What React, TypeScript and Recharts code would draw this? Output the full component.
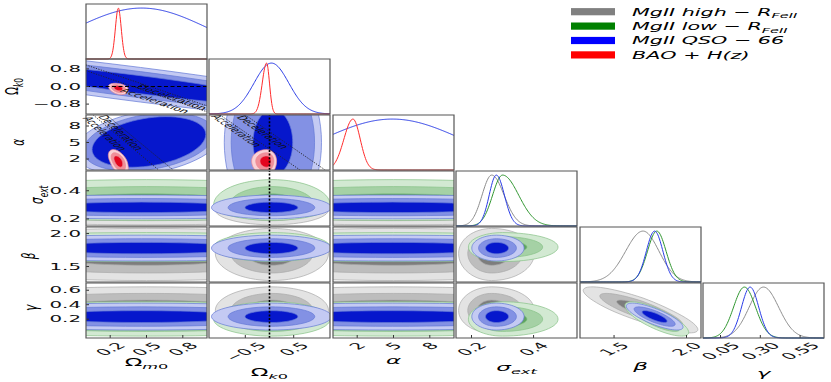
import React from "react";
import {
  ComposedChart,
  Line,
  Scatter,
  XAxis,
  YAxis,
  ReferenceArea,
  ReferenceLine,
  ReferenceDot,
} from "recharts";

// parameter order: Ωm0, Ωk0, α, σext, β, γ
const paramMin = [0, -1.25, 0, 0.15, 1.265, -0.06];
const paramMax = [1, 1.25, 10, 0.54, 2.1, 0.7];
const xTickValues = [[0.2, 0.5, 0.8], [-0.5, 0.5], [2, 5, 8], [0.2, 0.4], [1.5, 2.0], [0.05, 0.3, 0.55]];
const yTickValues = [[0.2, 0.5, 0.8], [-0.8, 0, 0.8], [2, 5, 8], [0.2, 0.4], [1.5, 2.0], [0.2, 0.4, 0.6]];
const xTickDigits = [1, 1, 0, 1, 1, 2];
const yTickDigits = [1, 1, 0, 1, 1, 1];
const labelMain = ["Ω", "Ω", "α", "σ", "β", "γ"];
const labelSub = ["m0", "k0", "", "ext", "", ""];

// posterior peak, lower width, upper width
const highPeak = [0.5, 0.05, 5, 0.265, 1.7, 0.32];
const highLow = [0.6, 0.34, 6, 0.031, 0.12, 0.09];
const highUp = [0.6, 0.34, 6, 0.04, 0.11, 0.095];
const lowPeak = [0.5, 0.05, 5, 0.3, 1.795, 0.2];
const lowLow = [0.6, 0.35, 6, 0.032, 0.064, 0.068];
const lowUp = [0.6, 0.35, 6, 0.052, 0.064, 0.07];
const qsoPeak = [0.46, 0.04, 4.9, 0.28, 1.78, 0.236];
const qsoLow = [0.55, 0.36, 5.8, 0.023, 0.057, 0.054];
const qsoUp = [0.55, 0.36, 5.8, 0.026, 0.057, 0.054];
const baoPeak = [0.267, -0.06, 1.65];
const baoLow = [0.024, 0.09, 0.75];
const baoUp = [0.024, 0.06, 0.6];

// correlations: [param i, param j, rho]
const highCorr = [[4, 5, -0.85]];
const lowCorr = [[4, 5, -0.78]];
const qsoCorr = [[4, 5, -0.78]];
const baoCorr = [[0, 1, -0.3], [0, 2, -0.5]];

// QSO-66 contours in the cosmology panels (outer -> inner)
const qsoCosmo = [
  { i: 0, j: 1, cx: 0.45, cy: 0.08, sx: 0.8, sy: 0.622, rho: -0.9, k: [2.9, 2.2, 1.515] },
  { i: 0, j: 2, cx: 0.52, cy: 5.1, sx: 0.47, sy: 4.6, rho: 0.3, k: [1.3, 1.15, 1] },
  { i: 1, j: 2, cx: 0.07, cy: 5, sx: 0.41, sy: 6, rho: 0, k: [2.45, 2.1, 1] },
];
const levels = [3.44, 2.486, 1.515];

// q0 = 0 boundary lines and their labels
const boundaryLines = [
  [0, 1, 0, 0.98, 1, -0.88],
  [0, 1, 0, 0.72, 1, -1.15],
  [0, 2, 0.17, 10, 0.72, 0],
  [0, 2, 0.06, 10, 0.6, 0],
  [1, 2, -1.02, 10, 0.63, 0],
  [1, 2, -0.5, 10, 1.15, 0],
];
const boundaryText = [
  [0, 1, 0.71, -0.49, "Deceleration", 37],
  [0, 1, 0.57, -0.65, "Acceleration", 37],
  [0, 2, 0.29, 6.8, "Deceleration", 63],
  [0, 2, 0.157, 6.6, "Acceleration", 63],
  [1, 2, -0.14, 6.9, "Deceleration", 57],
  [1, 2, -0.68, 7.15, "Acceleration", 57],
];

const legendLabels = ["MgII high − R", "MgII low − R", "MgII QSO − 66", "BAO + H(z)"];
const legendSubs = ["FeII", "FeII", "", ""];
const legendColors = ["#808080", "#008000", "#0000ff", "#ff0000"];

const high = { key: "high", peak: highPeak, low: highLow, up: highUp, corr: highCorr, line: "#8c8c8c", fills: ["#e3e3e3", "#bdbdbd", "#7d7d7d"], edge: "#a9a9a9" };
const low = { key: "low", peak: lowPeak, low: lowLow, up: lowUp, corr: lowCorr, line: "#2f962f", fills: ["#d2e9d2", "#a5d1a5", "#5ea45e"], edge: "#86c186" };
const qso = { key: "qso", peak: qsoPeak, low: qsoLow, up: qsoUp, corr: qsoCorr, line: "#2a3ce6", fills: ["#c4caf3", "#8391e4", "#0617cc"], edge: "#6378d6" };
const bao = { key: "bao", peak: baoPeak, low: baoLow, up: baoUp, corr: baoCorr, line: "#ff2b2b", fills: ["#f9d2d6", "#f08f99", "#e3061f"], edge: "#ec8a95" };

const W = 121;
const H = 55;
const COL0 = 86;
const COL_STEP = 123.4;
const ROW0 = 3.5;
const ROW_STEP = 55.9;
const SX = 2.2;
const FONT = "'DejaVu Sans', sans-serif";
const TICK_FS = 9;
const LABEL_FS = 10.5;

const yLabelX = [0, 12, 18, 37.5, 29, 31.5];
const yLabelY = [0, 87, 142.5, 195, 256, 308];
const xLabelY = [362, 372, 360, 367, 366, 373];

const fmt = (v: number, d: number) => (v < 0 ? "−" : "") + Math.abs(v).toFixed(d);
const emWidth = (s: string) =>
  [...s].reduce((w, ch) => w + (ch === "." ? 0.318 : ch === "−" ? 0.838 : 0.636), 0);

const splitGauss = (x: number, m: number, lo: number, hi: number) =>
  Math.exp(-0.5 * ((x - m) / (x < m ? lo : hi)) ** 2);

function corrOf(set: any, i: number, j: number) {
  const hit = set.corr.find((p: number[]) => (p[0] === i && p[1] === j) || (p[0] === j && p[1] === i));
  return hit ? hit[2] : 0;
}

function ellipse(cx: number, cy: number, sxLo: number, sxHi: number, syLo: number, syHi: number, rho: number, k: number) {
  const pts = [];
  const c = Math.sqrt(1 - rho * rho);
  for (let n = 0; n < 64; n++) {
    const t = (2 * Math.PI * n) / 64;
    const u = k * Math.cos(t);
    const v = rho * u + c * k * Math.sin(t);
    pts.push({ x: cx + u * (u < 0 ? sxLo : sxHi), y: cy + v * (v < 0 ? syLo : syHi) });
  }
  return pts;
}

function panelContours(c: number, r: number) {
  const out: any[] = [];
  let sets = [high, low, qso];
  if (r <= 2) {
    const o = qsoCosmo.find((p) => p.i === c && p.j === r)!;
    o.k.forEach((k, n) =>
      out.push({ pts: ellipse(o.cx, o.cy, o.sx, o.sx, o.sy, o.sy, o.rho, k), fill: qso.fills[n], edge: qso.edge })
    );
    sets = [bao];
  }
  sets.forEach((set) => {
    const rho = corrOf(set, c, r);
    levels.forEach((k, n) =>
      out.push({
        pts: ellipse(set.peak[c], set.peak[r], set.low[c], set.up[c], set.low[r], set.up[r], rho, k),
        fill: set.fills[n],
        edge: set.edge,
      })
    );
  });
  return out;
}

function curveRows(p: number, sets: any[]) {
  const rows = [];
  const n = 160;
  for (let s = 0; s <= n; s++) {
    const x = paramMin[p] + ((paramMax[p] - paramMin[p]) * s) / n;
    const row: any = { x };
    sets.forEach((set) => (row[set.key] = splitGauss(x, set.peak[p], set.low[p], set.up[p])));
    rows.push(row);
  }
  return rows;
}

const renderNothing = () => <g />;

function MathText({ main, sub, fs, italic }: any) {
  return (
    <text textAnchor="middle" dy="0.35em" fontSize={fs} fontFamily={FONT} fill="#000">
      <tspan fontStyle={italic ? "italic" : "normal"}>{main}</tspan>
      {[...sub].map((ch: string, n: number) => (
        <tspan key={n} fontSize={fs * 0.7} fontStyle={/[a-z]/i.test(ch) ? "italic" : "normal"} dy={n === 0 ? fs * 0.3 : 0}>
          {ch}
        </tspan>
      ))}
    </text>
  );
}

function XTick(props: any) {
  const { x, y, payload, digits } = props;
  const s = fmt(payload.value, digits);
  const off = 3.5 + (emWidth(s) * TICK_FS + 0.73 * TICK_FS) * 0.3536;
  return (
    <g transform={`translate(${x},${y + off}) scale(${SX},1) rotate(-45)`}>
      <text textAnchor="middle" dy="0.36em" fontSize={TICK_FS} fontFamily={FONT} fill="#111">
        {s}
      </text>
    </g>
  );
}

function YTick(props: any) {
  const { x, y, payload, digits } = props;
  return (
    <g transform={`translate(${x},${y}) scale(${SX},1)`}>
      <text textAnchor="end" dy="0.36em" fontSize={TICK_FS} fontFamily={FONT} fill="#111">
        {fmt(payload.value, digits)}
      </text>
    </g>
  );
}

function Panel({ r, c }: { r: number; c: number }) {
  const diag = r === c;
  const showX = r === 5;
  const showY = c === 0 && r > 0;
  const ml = c === 0 ? 86 : showX ? 24 : 3;
  const mb = showX ? 46 : 3;
  const extra = showX ? 18 : 0;
  const left = COL0 + c * COL_STEP - ml;
  const top = ROW0 + r * ROW_STEP - 3;
  const curveSets = c <= 2 ? [qso, bao] : [high, low, qso];

  const xLabel = showX
    ? {
        content: () => (
          <g transform={`translate(${ml + W / 2},${xLabelY[c] - top}) scale(${SX},1)`}>
            <MathText main={labelMain[c]} sub={labelSub[c]} fs={LABEL_FS} italic={c >= 2} />
          </g>
        ),
      }
    : undefined;
  const yLabel = showY
    ? {
        content: () => (
          <g transform={`translate(${yLabelX[r] - left},${yLabelY[r] - top}) scale(1.6,1) rotate(-90)`}>
            <MathText main={labelMain[r]} sub={labelSub[r]} fs={LABEL_FS} italic={r >= 2} />
          </g>
        ),
      }
    : undefined;

  const xAxis = (
    <XAxis
      type="number"
      dataKey="x"
      domain={[paramMin[c], paramMax[c]]}
      ticks={xTickValues[c]}
      interval={0}
      allowDataOverflow
      height={mb}
      axisLine={false}
      tickSize={-3}
      tickMargin={3}
      tickLine={{ stroke: "#333" }}
      tick={showX ? <XTick digits={xTickDigits[c]} /> : false}
      label={xLabel}
      zIndex={900}
    />
  );
  const frame = (yAxisId: any, y1: number, y2: number) => (
    <ReferenceArea
      yAxisId={yAxisId}
      x1={paramMin[c]}
      x2={paramMax[c]}
      y1={y1}
      y2={y2}
      fill="none"
      stroke="#555"
      strokeWidth={1.2}
      ifOverflow="visible"
      isFront
      zIndex={1000}
    />
  );

  if (diag) {
    return (
      <div style={{ position: "absolute", left, top }}>
        <ComposedChart
          width={W + ml + 3 + extra}
          height={H + 3 + mb}
          margin={{ top: 3, right: 3 + extra, bottom: 0, left: ml }}
          data={curveRows(c, curveSets)}
        >
          {xAxis}
          <YAxis yAxisId="d" type="number" domain={[0, 1.08]} hide />
          {curveSets.map((set) => (
            <Line
              key={set.key}
              yAxisId="d"
              type="monotone"
              dataKey={set.key}
              stroke={set.line}
              strokeWidth={1}
              dot={false}
              isAnimationActive={false}
            />
          ))}
          {frame("d", 0, 1.08)}
        </ComposedChart>
      </div>
    );
  }

  const contours = panelContours(c, r);
  return (
    <div style={{ position: "absolute", left, top }}>
      <ComposedChart
        width={W + ml + 3 + extra}
        height={H + 3 + mb}
        margin={{ top: 3, right: extra, bottom: 0, left: 0 }}
      >
        {xAxis}
        <YAxis
          type="number"
          dataKey="y"
          domain={[paramMin[r], paramMax[r]]}
          ticks={yTickValues[r]}
          interval={0}
          allowDataOverflow
          width={ml}
          axisLine={false}
          tickSize={-3}
          tickMargin={8}
          tickLine={{ stroke: "#333" }}
          tick={showY ? <YTick digits={yTickDigits[r]} /> : false}
          label={yLabel}
          zIndex={900}
        />
        <YAxis
          yAxisId="right"
          orientation="right"
          type="number"
          domain={[paramMin[r], paramMax[r]]}
          ticks={yTickValues[r]}
          interval={0}
          width={3}
          axisLine={false}
          tickSize={-3}
          tickLine={{ stroke: "#333" }}
          tick={false}
          zIndex={900}
        />
        {contours.map((ct, n) => (
          <Scatter
            key={n}
            data={ct.pts}
            line={{ fill: ct.fill, stroke: ct.edge, strokeWidth: 0.7 }}
            lineType="joint"
            lineJointType="linearClosed"
            shape={renderNothing}
            legendType="none"
            isAnimationActive={false}
          />
        ))}
        {r === 1 && c === 0 && (
          <ReferenceLine y={0} stroke="#000" strokeWidth={1} strokeDasharray="4 2.5" isFront zIndex={800} />
        )}
        {c === 1 && r >= 2 && (
          <ReferenceLine x={0} stroke="#000" strokeWidth={1.6} strokeDasharray="2 1.6" isFront zIndex={800} />
        )}
        {boundaryLines
          .filter((b) => b[0] === c && b[1] === r)
          .map((b, n) => (
            <ReferenceLine
              key={`b${n}`}
              segment={[
                { x: b[2], y: b[3] },
                { x: b[4], y: b[5] },
              ]}
              stroke="#222"
              strokeWidth={0.9}
              strokeDasharray="1.2 1.4"
              ifOverflow="hidden"
              isFront
              zIndex={800}
            />
          ))}
        {boundaryText
          .filter((b) => b[0] === c && b[1] === r)
          .map((b, n) => (
            <ReferenceDot
              key={`t${n}`}
              x={b[2] as number}
              y={b[3] as number}
              r={0}
              ifOverflow="visible"
              isFront
              zIndex={850}
              shape={(p: any) => (
                <g transform={`translate(${p.cx},${p.cy}) scale(${SX},1) rotate(${b[5]})`}>
                  <text textAnchor="middle" dy="0.35em" fontSize={6} fontFamily={FONT} fill="#111">
                    {b[4]}
                  </text>
                </g>
              )}
            />
          ))}
        {frame(0, paramMin[r], paramMax[r])}
      </ComposedChart>
    </div>
  );
}

function FigureLegend() {
  return (
    <svg width={831} height={70} style={{ position: "absolute", left: 0, top: 0 }}>
      {legendLabels.map((name, n) => {
        const cy = 11.7 + n * 14.4;
        return (
          <g key={name}>
            <rect x={571} y={cy - 3.6} width={44} height={7.2} fill={legendColors[n]} />
            <g transform={`translate(632,${cy}) scale(1.88,1)`}>
              <text dy="0.36em" fontSize={11} fontStyle="italic" fontFamily={FONT} fill="#000">
                {name}
                {legendSubs[n] && (
                  <tspan fontSize={7.7} dy={2.8}>
                    {legendSubs[n]}
                  </tspan>
                )}
              </text>
            </g>
          </g>
        );
      })}
    </svg>
  );
}

export default function App() {
  const cells = [];
  for (let r = 0; r < 6; r++) {
    for (let c = 0; c <= r; c++) cells.push(<Panel key={`${r}-${c}`} r={r} c={c} />);
  }
  return (
    <div style={{ position: "absolute", left: 0, top: 0, width: 831, height: 382, background: "#fff", overflow: "hidden" }}>
      {cells}
      <FigureLegend />
    </div>
  );
}
